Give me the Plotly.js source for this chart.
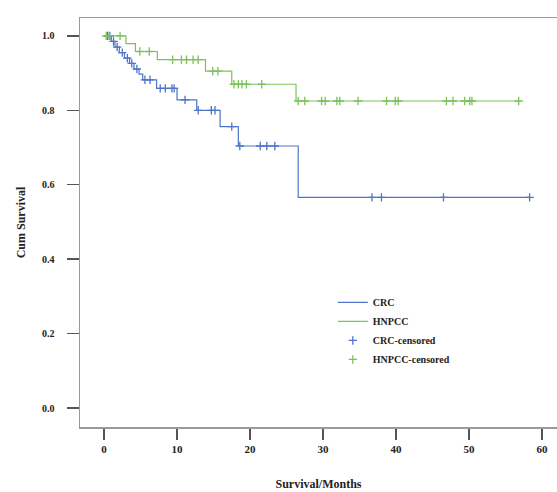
<!DOCTYPE html>
<html><head><meta charset="utf-8">
<script src="https://cdn.plot.ly/plotly-3.0.1.min.js"></script>
<style>html,body{margin:0;padding:0;background:#fff;}#chart{width:557px;height:492px;}</style>
</head><body><div id="chart"></div>
<script>
// CRC Kaplan-Meier steps (time in months, cumulative survival)
var crcStepTime = [0, 1.0, 1.5, 2.1, 2.8, 3.5, 4.1, 4.8, 5.3, 7.2, 10.0, 12.7, 15.9, 18.4, 26.6, 58.3];
var crcStepSurv = [1.0, 0.985, 0.970, 0.955, 0.940, 0.926, 0.911, 0.897, 0.882, 0.859, 0.828, 0.800, 0.756, 0.704, 0.566, 0.566];
var crcCensor = [0.5, 0.8, 1.3, 1.8, 2.5, 3.2, 3.8, 4.5, 5.6, 6.3, 7.7, 8.4, 9.3, 9.6, 11.1, 12.9, 14.7, 15.2, 17.5, 18.6, 21.4, 22.3, 23.4, 36.7, 38.0, 46.5, 58.3];
// HNPCC
var hnStepTime = [0, 3.0, 4.3, 7.3, 13.9, 17.5, 26.3, 56.8];
var hnStepSurv = [1.0, 0.979, 0.958, 0.936, 0.905, 0.870, 0.825, 0.825];
var hnCensor = [0.3, 0.7, 2.2, 4.9, 6.2, 9.4, 10.6, 11.3, 12.2, 12.9, 14.9, 15.6, 17.8, 18.4, 18.9, 19.5, 21.6, 26.6, 27.5, 29.8, 30.3, 31.9, 32.3, 34.8, 38.7, 39.9, 40.3, 46.9, 47.8, 49.4, 50.1, 50.4, 56.8];
var xTicks = [0, 10, 20, 30, 40, 50, 60];
var yTicks = [0.0, 0.2, 0.4, 0.6, 0.8, 1.0];
var yTickText = ['0.0', '0.2', '0.4', '0.6', '0.8', '1.0'];

function survAt(times, surv, t) {
  var s = surv[0];
  for (var i = 0; i < times.length; i++) { if (times[i] <= t) s = surv[i]; }
  return s;
}
var blue = '#4f74c9', green = '#7cc15a';
var serif = 'Liberation Serif, Times New Roman, serif';

var traces = [
  {x: crcStepTime, y: crcStepSurv, mode: 'lines', line: {shape: 'hv', color: blue, width: 1.2}, name: 'CRC'},
  {x: hnStepTime, y: hnStepSurv, mode: 'lines', line: {shape: 'hv', color: green, width: 1.2}, name: 'HNPCC'},
  {x: crcCensor, y: crcCensor.map(function(t){return survAt(crcStepTime, crcStepSurv, t);}), mode: 'markers',
   marker: {symbol: 'cross-thin', size: 6, line: {color: blue, width: 1.3}, color: blue}, name: 'CRC-censored'},
  {x: hnCensor, y: hnCensor.map(function(t){return survAt(hnStepTime, hnStepSurv, t);}), mode: 'markers',
   marker: {symbol: 'cross-thin', size: 6, line: {color: green, width: 1.3}, color: green}, name: 'HNPCC-censored'}
];

var layout = {
  width: 557, height: 492,
  margin: {l: 80, r: 0, t: 18, b: 65},
  paper_bgcolor: '#fff', plot_bgcolor: '#fff',
  showlegend: true,
  legend: {x: 0.53, y: 0.34, xanchor: 'left', yanchor: 'top', bgcolor: 'rgba(0,0,0,0)',
           font: {family: serif, size: 10, color: '#222', weight: 'bold'}, tracegroupgap: 0},
  xaxis: {range: [-3.29, 62.05], tickvals: xTicks, ticktext: xTicks.map(String), showgrid: false, zeroline: false,
          showline: true, mirror: true, linecolor: '#9a9a9a', linewidth: 1.5,
          ticks: 'outside', ticklen: 11, tickwidth: 1.5, tickcolor: '#555',
          tickfont: {family: serif, size: 11, color: '#222', weight: 'bold'},
          title: {text: 'Survival/Months', font: {family: serif, size: 12, color: '#222', weight: 'bold'}, standoff: 26}},
  yaxis: {range: [-0.051, 1.048], tickvals: yTicks, ticktext: yTickText, showgrid: false, zeroline: false,
          showline: true, linecolor: '#9a9a9a', linewidth: 1.5,
          ticks: 'outside', ticklen: 12, tickwidth: 1.5, tickcolor: '#555', ticklabelstandoff: 10,
          tickfont: {family: serif, size: 10, color: '#222', weight: 'bold'},
          title: {text: 'Cum Survival', font: {family: serif, size: 12, color: '#222', weight: 'bold'}, standoff: 14}}
};
Plotly.newPlot('chart', traces, layout, {displayModeBar: false, staticPlot: true});
</script></body></html>
